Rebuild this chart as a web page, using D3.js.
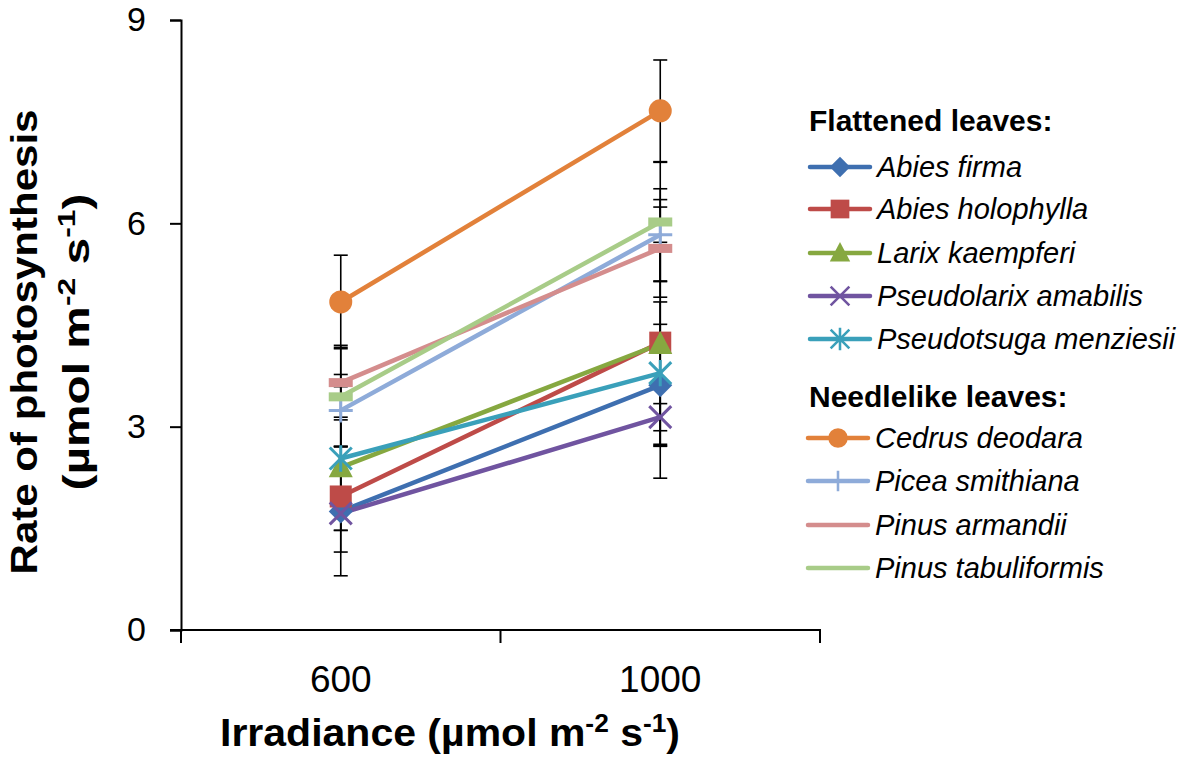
<!DOCTYPE html>
<html>
<head>
<meta charset="utf-8">
<script src="https://cdn.jsdelivr.net/npm/d3@7"></script>
<style>
  body { margin: 0; background: #fff; }
  text { font-family: "Liberation Sans", Arial, sans-serif; }
</style>
</head>
<body>
<script>
// data
var irradiance = ["600", "1000"];
var species = ["Abies firma", "Abies holophylla", "Larix kaempferi", "Pseudolarix amabilis",
               "Pseudotsuga menziesii", "Cedrus deodara", "Picea smithiana", "Pinus armandii",
               "Pinus tabuliformis"];
var rate600 = [1.75, 1.97, 2.40, 1.72, 2.53, 4.84, 3.24, 3.65, 3.44];
var rate1000 = [3.61, 4.24, 4.22, 3.14, 3.79, 7.66, 5.83, 5.63, 6.02];
var err600 = [0.60, 1.17, 0.30, 0.25, 1.06, 0.69, 0.53, 0.55, 0.73];
var err1000 = [0.90, 2.00, 1.50, 0.20, 1.05, 0.75, 0.68, 0.72, 0.88];
var yTicks = [0, 3, 6, 9];

var colors = ["#3E6FB0", "#BE4B48", "#86A840", "#7054A0", "#3AA0BA", "#E2813A", "#8EABD9", "#D48D8D", "#A8CC88"];
var markers = ["diamond", "square", "triangle", "x", "star", "circle", "plus", "dash", "dash"];

var w = 1181, h = 760;
var svg = d3.select("body").append("svg").attr("width", w).attr("height", h);

var x = d3.scaleBand().domain(irradiance).range([181, 820]);
var y = d3.scaleLinear().domain([0, 9]).range([630, 20]);

// axes
var yAxis = svg.append("g").attr("transform", "translate(181,0)")
  .call(d3.axisLeft(y).tickValues(yTicks).tickSize(11).tickPadding(24));
yAxis.selectAll("text").attr("font-size", "34px").attr("fill", "#000").attr("dy", "0.32em");
yAxis.select(".domain").attr("stroke-width", 2);
yAxis.selectAll(".tick line").attr("stroke-width", 2);

var xAxisG = svg.append("g").attr("transform", "translate(0,630)");
xAxisG.append("line").attr("x1", 170).attr("x2", 821).attr("stroke", "#000").attr("stroke-width", 2);
xAxisG.selectAll(".xt").data([x("600"), x("1000"), x("1000") + x.bandwidth()])
  .enter().append("line")
  .attr("x1", function(d) { return d; }).attr("x2", function(d) { return d; })
  .attr("y1", 0).attr("y2", 13).attr("stroke", "#000").attr("stroke-width", 2);
xAxisG.selectAll(".xl").data(irradiance).enter().append("text")
  .attr("x", function(d) { return x(d) + x.bandwidth() / 2; })
  .attr("y", 62).attr("text-anchor", "middle").attr("font-size", "37px").text(function(d) { return d; });

// axis titles
var xt = svg.append("text").attr("x", 450).attr("y", 746).attr("text-anchor", "middle")
  .attr("font-size", "39px").attr("font-weight", "bold")
  .attr("textLength", 460).attr("lengthAdjust", "spacingAndGlyphs");
xt.append("tspan").text("Irradiance (µmol m");
xt.append("tspan").attr("font-size", "25px").attr("dy", -14).text("-2");
xt.append("tspan").attr("dy", 14).text(" s");
xt.append("tspan").attr("font-size", "25px").attr("dy", -14).text("-1");
xt.append("tspan").attr("dy", 14).text(")");

var yt = svg.append("g").attr("transform", "translate(0,342) rotate(-90)");
yt.append("text").attr("x", 0).attr("y", 37).attr("text-anchor", "middle")
  .attr("font-size", "36px").attr("font-weight", "bold")
  .attr("textLength", 465).attr("lengthAdjust", "spacingAndGlyphs")
  .text("Rate of photosynthesis");
var yt2 = yt.append("text").attr("x", 0).attr("y", 89).attr("text-anchor", "middle")
  .attr("font-size", "36px").attr("font-weight", "bold")
  .attr("textLength", 297).attr("lengthAdjust", "spacingAndGlyphs");
yt2.append("tspan").text("(µmol m");
yt2.append("tspan").attr("font-size", "24px").attr("dy", -14).text("-2");
yt2.append("tspan").attr("dy", 14).text(" s");
yt2.append("tspan").attr("font-size", "24px").attr("dy", -14).text("-1");
yt2.append("tspan").attr("dy", 14).text(")");

// series data
var series = species.map(function(s, i) {
  return { name: s, i: i, pts: [
    { k: "600", v: rate600[i], e: err600[i] },
    { k: "1000", v: rate1000[i], e: err1000[i] } ] };
});
function cx(k) { return x(k) + x.bandwidth() / 2; }

// error bars
var eb = svg.append("g");
series.forEach(function(s) {
  s.pts.forEach(function(p) {
    var px = cx(p.k);
    eb.append("line").attr("x1", px).attr("x2", px).attr("y1", y(p.v - p.e)).attr("y2", y(p.v + p.e))
      .attr("stroke", "#000").attr("stroke-width", 1.6);
    [p.v - p.e, p.v + p.e].forEach(function(v) {
      eb.append("line").attr("x1", px - 7).attr("x2", px + 7).attr("y1", y(v)).attr("y2", y(v))
        .attr("stroke", "#000").attr("stroke-width", 1.6);
    });
  });
});

// lines
var line = d3.line().x(function(d) { return cx(d.k); }).y(function(d) { return y(d.v); });
svg.append("g").selectAll("path").data(series).enter().append("path")
  .attr("d", function(d) { return line(d.pts); })
  .attr("fill", "none").attr("stroke", function(d) { return colors[d.i]; })
  .attr("stroke-width", 4.5).attr("stroke-linecap", "round");

function drawMarker(g, type, color, px, py, scale) {
  var s = scale || 1;
  var tr = "translate(" + px + "," + py + ")";
  if (type === "diamond") {
    var d = 12 * s;
    g.append("path").attr("d", "M0," + (-d) + "L" + d + ",0L0," + d + "L" + (-d) + ",0Z")
      .attr("transform", tr).attr("fill", color);
  } else if (type === "square") {
    g.append("rect").attr("x", px - 11 * s).attr("y", py - 11 * s).attr("width", 22 * s).attr("height", 22 * s).attr("fill", color);
  } else if (type === "triangle") {
    g.append("path").attr("d", "M0," + (-13 * s) + "L" + (12 * s) + "," + (10 * s) + "L" + (-12 * s) + "," + (10 * s) + "Z")
      .attr("transform", tr).attr("fill", color);
  } else if (type === "x") {
    var r = 11 * s;
    g.append("path").attr("d", "M" + (-r) + "," + (-r) + "L" + r + "," + r + "M" + (-r) + "," + r + "L" + r + "," + (-r))
      .attr("transform", tr).attr("stroke", color).attr("stroke-width", 3 * s).attr("fill", "none");
  } else if (type === "star") {
    var r2 = 11 * s;
    g.append("path").attr("d", "M" + (-r2) + "," + (-r2) + "L" + r2 + "," + r2 + "M" + (-r2) + "," + r2 + "L" + r2 + "," + (-r2) + "M0," + (-r2 * 1.2) + "L0," + (r2 * 1.2))
      .attr("transform", tr).attr("stroke", color).attr("stroke-width", 3 * s).attr("fill", "none");
  } else if (type === "circle") {
    g.append("circle").attr("cx", px).attr("cy", py).attr("r", 11.5 * s).attr("fill", color);
  } else if (type === "plus") {
    var r3 = 12 * s;
    g.append("path").attr("d", "M" + (-r3) + ",0L" + r3 + ",0M0," + (-r3) + "L0," + r3)
      .attr("transform", tr).attr("stroke", color).attr("stroke-width", 3 * s).attr("fill", "none");
  } else if (type === "dash") {
    g.append("rect").attr("x", px - 12 * s).attr("y", py - 4.5 * s).attr("width", 24 * s).attr("height", 9 * s).attr("fill", color);
  }
}

// markers
var mg = svg.append("g");
series.forEach(function(s) {
  s.pts.forEach(function(p) {
    drawMarker(mg, markers[s.i], colors[s.i], cx(p.k), y(p.v), 1);
  });
});

// legend
var lg = svg.append("g");
var headers = [{ t: "Flattened leaves:", y: 131 }, { t: "Needlelike leaves:", y: 407 }];
lg.selectAll(".hd").data(headers).enter().append("text")
  .attr("x", 809).attr("y", function(d) { return d.y; })
  .attr("font-size", "30px").attr("font-weight", "bold").text(function(d) { return d.t; });

var legY = [167, 209, 253, 296, 339, 438, 481, 525, 568];
series.forEach(function(s) {
  var ly = legY[s.i];
  var x0 = s.i < 5 ? 810 : 808;
  lg.append("line").attr("x1", x0).attr("x2", x0 + 60).attr("y1", ly).attr("y2", ly)
    .attr("stroke", colors[s.i]).attr("stroke-width", 4.5).attr("stroke-linecap", "round");
  if (markers[s.i] !== "dash") drawMarker(lg, markers[s.i], colors[s.i], x0 + 30, ly, 0.85);
  lg.append("text").attr("x", x0 + 67).attr("y", ly + 10).attr("font-size", "29px")
    .attr("font-style", "italic").text(s.name);
});
</script>
</body>
</html>
